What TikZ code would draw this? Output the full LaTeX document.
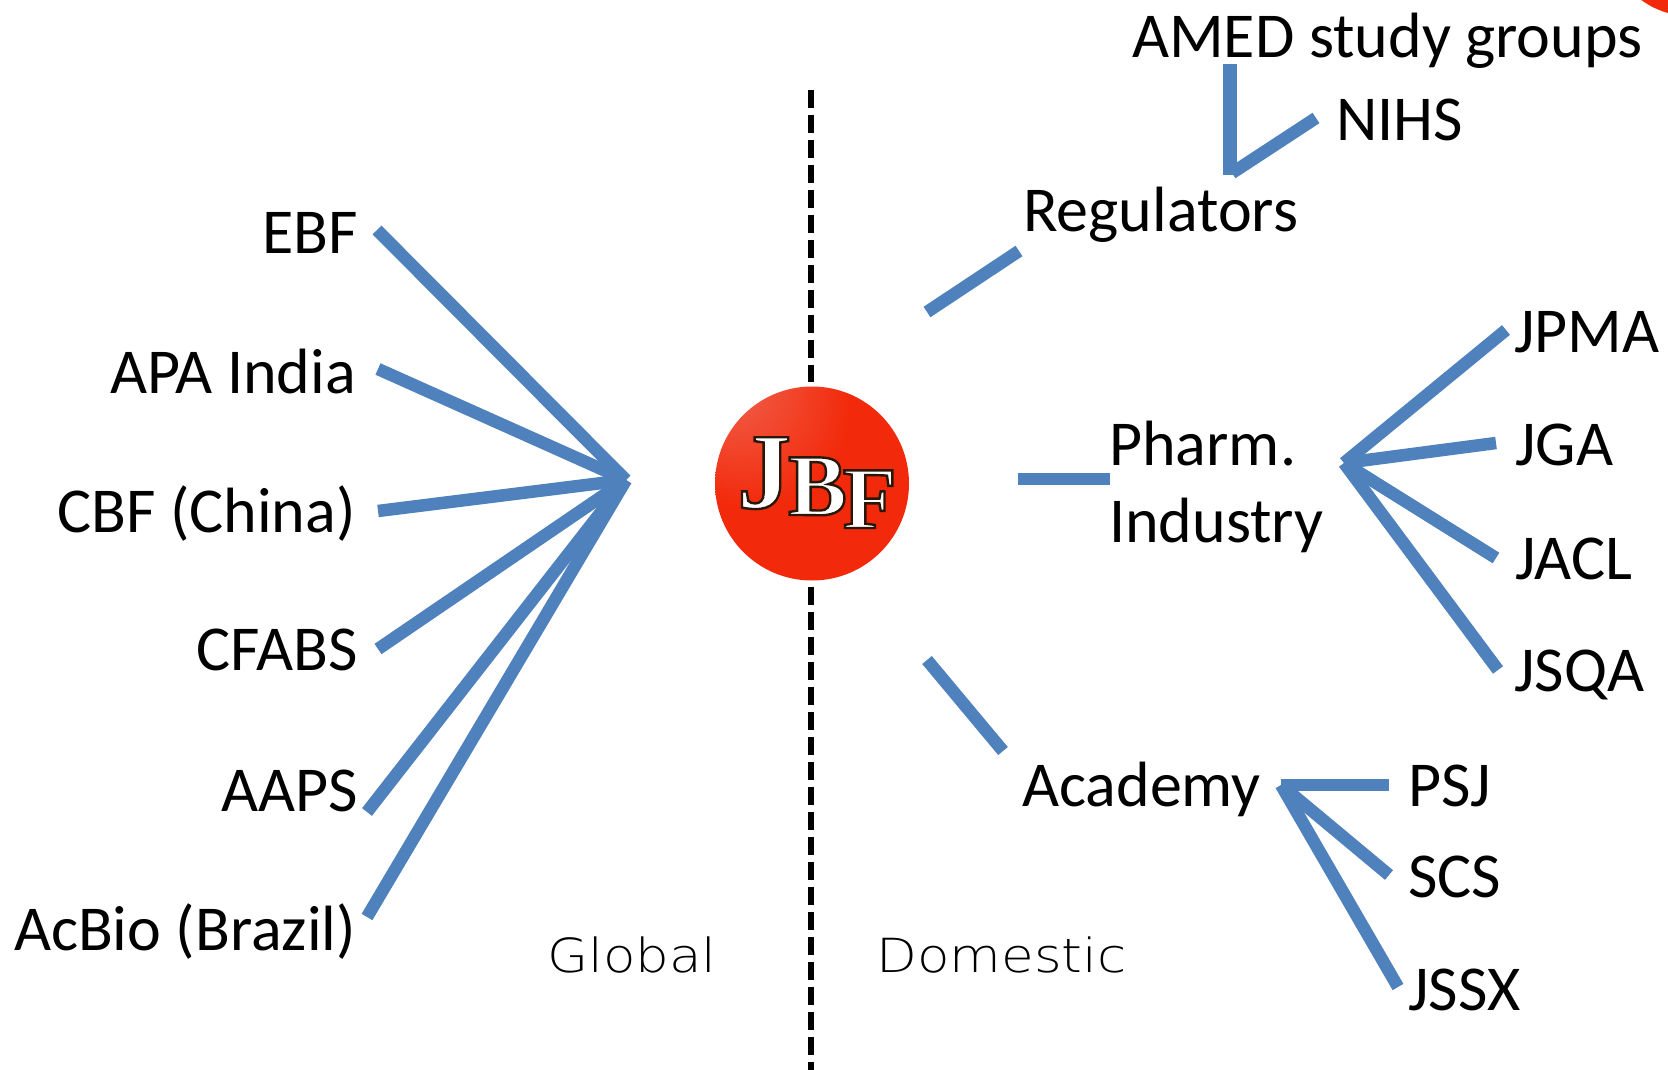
\documentclass[tikz,border=0pt]{standalone}
\usepackage{fontspec}
\setmainfont{Carlito}
\newfontfamily\thinfont{DejaVu Sans ExtraLight}
\newfontfamily\logofont{Liberation Serif}[BoldFont={Liberation Serif Bold}]
\usetikzlibrary{shadings}
\definecolor{linkblue}{HTML}{4F81BD}
\definecolor{ballred}{HTML}{F2290A}
\definecolor{balldark}{HTML}{B01C05}
\definecolor{ballpale}{HTML}{F09C92}
\pgfdeclareradialshading{ballshade}{\pgfpoint{-0.9cm}{1.1cm}}{
  color(0cm)=(ballpale);color(0.35cm)=(ballred!65!ballpale);color(0.9cm)=(ballred);
  color(1.5cm)=(ballred);color(2.3cm)=(balldark)}
\tikzset{
  link/.style={draw=linkblue,line width=12.5pt},
  thicklink/.style={draw=linkblue,line width=13.5pt},
  divider/.style={draw=black,line width=5.5pt,dash pattern=on 18pt off 7pt},
  lab/.style={font=\fontsize{64}{64}\selectfont,text=black,inner sep=0pt},
  lableft/.style={lab,anchor=base east},
  labright/.style={lab,anchor=base west},
  thinlab/.style={font=\fontsize{47}{47}\thinfont,text=black,inner sep=0pt,anchor=base west,xscale=1.13},
  logotext/.style={font=\logofont\bfseries,text=white,inner sep=0pt,anchor=base west},
}
% white letters with a dark brown stroke, set as one word
\newcommand{\outlined}[1]{\special{pdf:code q 0.16 0.09 0.03 RG 2.4 w 2 Tr}#1\special{pdf:code 0 Tr Q}}
\begin{document}
\begin{tikzpicture}[x=1pt,y=-1pt]
\useasboundingbox (0,0) rectangle (1668,1070);
\fill[white] (0,0) rectangle (1668,1070);
% corner of another ball, cut off by the frame
\begin{scope}
\clip (0,0) rectangle (1668,1070);
\fill[ballred] (1690,-66) circle (82);
\end{scope}
% divider
\coordinate (divtopa) at (811,90);
\coordinate (divtopb) at (811,382);
\coordinate (divbota) at (811,587);
\coordinate (divbotb) at (811,1070);
\draw[divider] (divtopa) -- (divtopb);
\draw[divider] (divbota) -- (divbotb);
% ball
\shade[shading=ballshade] (812,483.5) circle (97);
\node[logotext] (logo) at (737,508) {\outlined{\fontsize{108}{108}\selectfont J\kern-3pt\raisebox{-7pt}{\fontsize{88}{88}\selectfont B}\kern-4pt\raisebox{-20pt}{\fontsize{88}{88}\selectfont F}}};
% labels
\node[lableft] (ebf) at (358,253) {EBF};
\node[lableft] (apa) at (356,393) {APA India};
\node[lableft] (cbf) at (356,532) {CBF (China)};
\node[lableft] (cfabs) at (358,670) {CFABS};
\node[lableft] (aaps) at (358,811) {AAPS};
\node[lableft] (acbio) at (356,950) {AcBio (Brazil)};
\node[labright] (amed) at (1132,58) {AMED study groups};
\node[labright] (nihs) at (1336,141) {NIHS};
\node[labright] (reg) at (1023,231) {Regulators};
\node[labright] (pharm) at (1109,465) {Pharm.};
\node[labright] (ind) at (1109,542) {Industry};
\node[labright] (acad) at (1022,806) {Academy};
\node[labright] (jpma) at (1514,352) {JPMA};
\node[labright] (jga) at (1515,465) {JGA};
\node[labright] (jacl) at (1515,579) {JACL};
\node[labright] (jsqa) at (1514,691) {JSQA};
\node[labright] (psj) at (1408,806) {PSJ};
\node[labright] (scs) at (1408,897) {SCS};
\node[labright] (jssx) at (1408,1010) {JSSX};
\node[thinlab] (global) at (547,972) {Global};
\node[thinlab] (domestic) at (876,972) {Domestic};
% connector ends
\coordinate (hubl) at (626,480);
\coordinate (eebf) at (377,230);
\coordinate (eapa) at (378,369);
\coordinate (ecbf) at (378,511);
\coordinate (ecfabs) at (378,649);
\coordinate (eaaps) at (367,812);
\coordinate (eacbio) at (367,917);
\coordinate (rega) at (927,312);
\coordinate (regb) at (1019,251);
\coordinate (pha) at (1018,479);
\coordinate (phb) at (1110,479);
\coordinate (aca) at (927,660);
\coordinate (acb) at (1003,751);
\coordinate (hubp) at (1344,463);
\coordinate (ejpma) at (1506,330);
\coordinate (ejga) at (1496,443);
\coordinate (ejacl) at (1496,558);
\coordinate (ejsqa) at (1498,670);
\coordinate (huba) at (1281,785);
\coordinate (epsj) at (1389,785);
\coordinate (escs) at (1389,875);
\coordinate (ejssx) at (1398,987);
\coordinate (amt) at (1230,64);
\coordinate (amb) at (1230,175);
\coordinate (nia) at (1232,173);
\coordinate (nib) at (1316,118);
% connectors
\foreach \e in {eebf,eapa,ecbf,ecfabs,eaaps,eacbio} \draw[link] (hubl) -- (\e);
\draw[link] (rega) -- (regb);
\draw[link] (pha) -- (phb);
\draw[link] (aca) -- (acb);
\foreach \e in {ejpma,ejga,ejacl,ejsqa} \draw[link] (hubp) -- (\e);
\foreach \e in {epsj,escs,ejssx} \draw[link] (huba) -- (\e);
\draw[thicklink] (amt) -- (amb);
\draw[link] (nia) -- (nib);
\end{tikzpicture}
\end{document}
